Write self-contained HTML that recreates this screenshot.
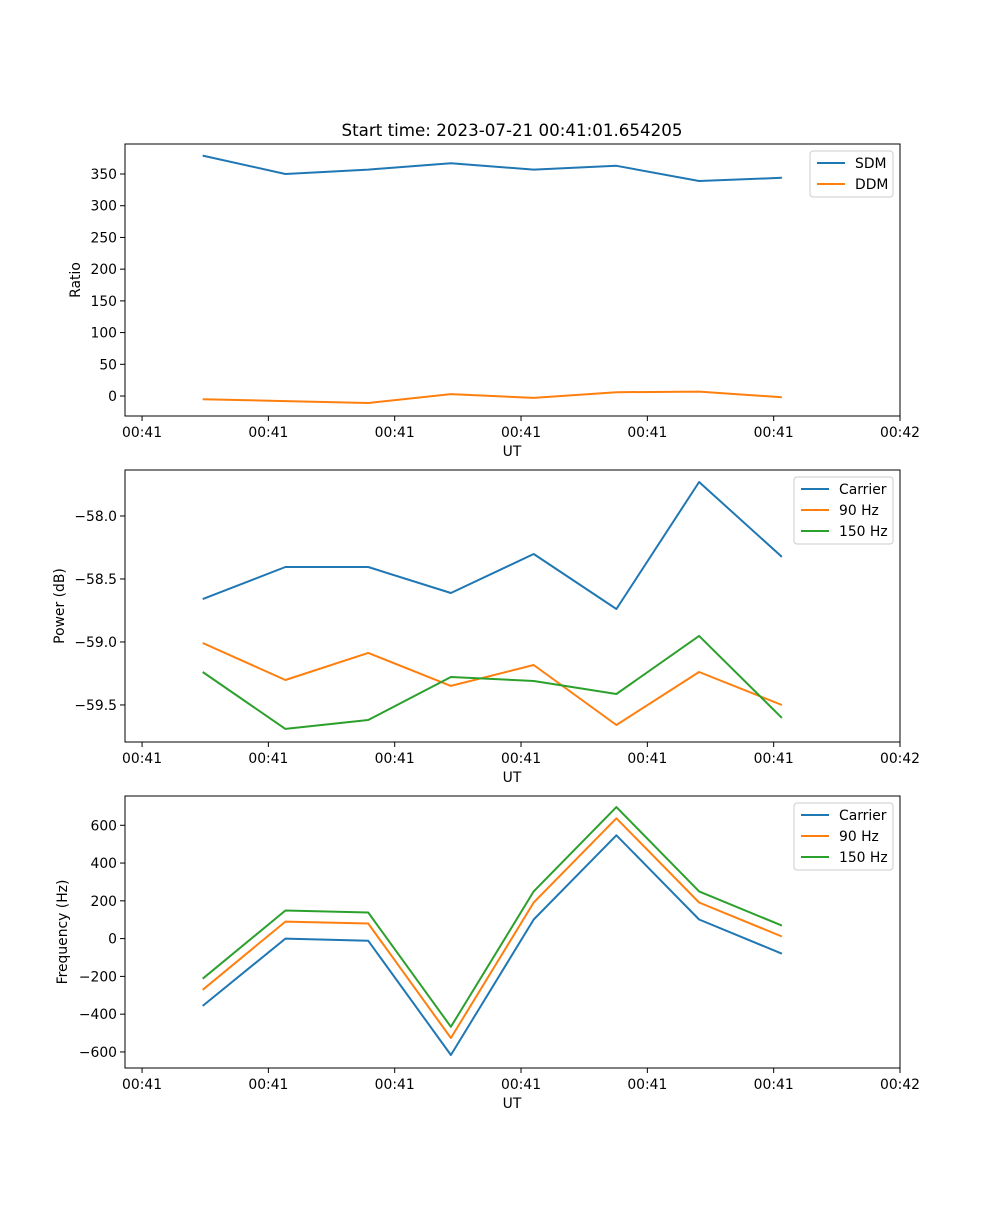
<!DOCTYPE html>
<html><head><meta charset="utf-8"><style>
body{margin:0;background:#fff}
svg text{font-family:"DejaVu Sans","Liberation Sans",sans-serif;font-size:13.9px;fill:#000}
</style></head><body>
<svg id="fig" width="1000" height="1200" viewBox="0 0 1000 1200">
<rect width="1000" height="1200" fill="#fff"/>
<text x="512" y="136" text-anchor="middle" style="font-size:16.7px">Start time: 2023-07-21 00:41:01.654205</text>
</svg>
<script>
const times=[4.8,11.35,17.9,24.45,31.0,37.55,44.1,50.65];
const xTickVals=[0,10,20,30,40,50,60];
const xTickLabels=["00:41","00:41","00:41","00:41","00:41","00:41","00:42"];
const sdm=[379,350,357,367,357,363,339,344];
const ddm=[-5,-8,-11,3,-3,6,7,-2];
const pCarrier=[-58.66,-58.405,-58.405,-58.611,-58.302,-58.738,-57.73,-58.325];
const p90=[-59.008,-59.302,-59.087,-59.349,-59.183,-59.659,-59.238,-59.5];
const p150=[-59.238,-59.69,-59.619,-59.278,-59.31,-59.413,-58.952,-59.603];
const fCarrier=[-356,0,-11,-616,101,547,101,-80];
const f90=[-271,90,80,-526,191,637,191,11];
const f150=[-212,149,138,-467,250,696,250,69];
const ratioTicks=[0,50,100,150,200,250,300,350];
const powerTicks=[-59.5,-59.0,-58.5,-58.0];
const freqTicks=[-600,-400,-200,0,200,400,600];
const C=["#1f77b4","#ff7f0e","#2ca02c"];
const svg=document.getElementById('fig');
const NS="http://www.w3.org/2000/svg";
function mk(tag,attrs,parent){const e=document.createElementNS(NS,tag);for(const k in attrs)e.setAttribute(k,attrs[k]);(parent||svg).appendChild(e);return e;}
const L=125,R=900,xmin=-1.35,xmax=60;
const xs=v=>L+(v-xmin)/(xmax-xmin)*(R-L);
function panel(name,top,ymin,ymax,yTicks,fmt,ylabel,ylabX,series,names,legW){
  const bot=top+272;
  const ys=v=>bot-(v-ymin)/(ymax-ymin)*272;
  const g=mk('g',{});
  
  
  series.forEach((s,i)=>{
    const p=mk('polyline',{points:s.map((v,j)=>xs(times[j]).toFixed(1)+','+ys(v).toFixed(1)).join(' '),fill:'none',stroke:C[i],'stroke-width':2,'stroke-linejoin':'round'},g);
    
    
  });
  const fr=mk('rect',{x:L,y:top,width:R-L,height:272,fill:'none',stroke:'#000','stroke-width':1},g);
  
  
  xTickVals.forEach((v,i)=>{const x=xs(v);mk('line',{x1:x,x2:x,y1:bot,y2:bot+5,stroke:'#000'},g);
    const t=mk('text',{x:x,y:bot+21,'text-anchor':'middle'},g);t.textContent=xTickLabels[i];
    
    });
  yTicks.forEach(v=>{const y=ys(v);mk('line',{x1:L,x2:L-5,y1:y,y2:y,stroke:'#000'},g);
    const t=mk('text',{x:L-8,y:y+5,'text-anchor':'end'},g);t.textContent=fmt(v);
    
    });
  const xl=mk('text',{x:512,y:bot+40,'text-anchor':'middle'},g);xl.textContent='UT';
  
  
  const yl=mk('text',{x:ylabX,y:top+136,'text-anchor':'middle',transform:`rotate(-90 ${ylabX} ${top+136})`},g);yl.textContent=ylabel;
  
  
  const lx=893-legW,ly=top+7,lh=4+names.length*21;
  const lg=mk('g',{},g);
  
  
  mk('rect',{x:lx,y:ly,width:legW,height:lh,rx:3,fill:'#fff','fill-opacity':0.8,stroke:'#ccc'},lg);
  names.forEach((n,i)=>{const y=ly+12+i*21;
    mk('line',{x1:lx+7,x2:lx+35,y1:y,y2:y,stroke:C[i],'stroke-width':2},lg);
    const t=mk('text',{x:lx+45,y:y+5},lg);t.textContent=n;
    
    });
}
panel('ratio',144,-31.5,397.3,ratioTicks,v=>String(v),'Ratio',80,[sdm,ddm],['SDM','DDM'],83);
panel('power',470,-59.794,-57.635,powerTicks,v=>'\u2212'+Math.abs(v).toFixed(1),'Power (dB)',64,[pCarrier,p90,p150],['Carrier','90 Hz','150 Hz'],99);
panel('frequency',796,-685,755,freqTicks,v=>v<0?'\u2212'+Math.abs(v):String(v),'Frequency (Hz)',67,[fCarrier,f90,f150],['Carrier','90 Hz','150 Hz'],99);
</script>
</body></html>
